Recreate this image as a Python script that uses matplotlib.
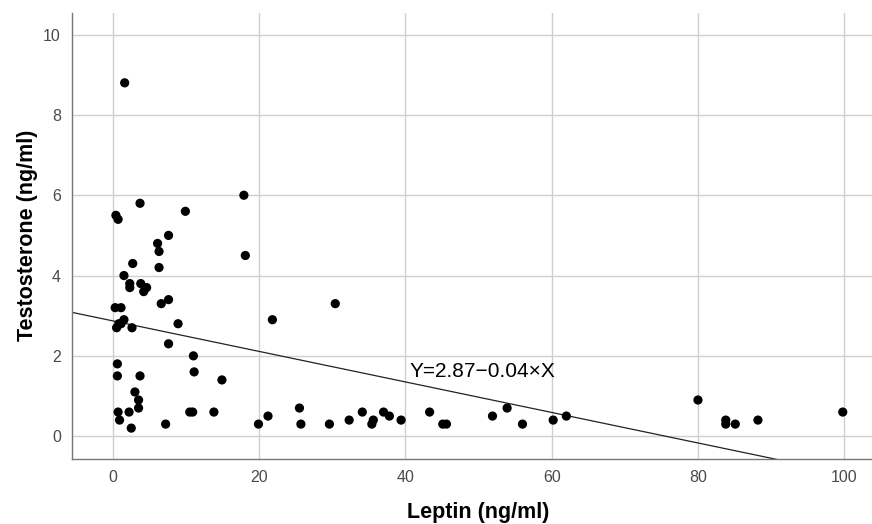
import matplotlib
matplotlib.use('Agg')
import matplotlib.pyplot as plt
import numpy as np

plt.rcParams['font.family'] = ['Liberation Sans', 'DejaVu Sans']

# leptin (ng/ml) and testosterone (ng/ml) per subject
leptin = [1.6, 3.7, 17.9, 0.4, 0.7, 9.9, 7.6, 6.1, 6.3, 18.1,
          2.7, 6.3, 1.5, 2.3, 2.3, 3.8, 4.6, 4.2, 7.6, 6.6,
          30.4, 0.3, 1.1, 1.5, 1.1, 0.8, 0.5, 2.6, 8.9, 21.8,
          7.6, 11.0, 11.1, 14.9, 0.6, 0.6, 3.7, 3.0, 3.5, 3.5,
          0.7, 2.2, 0.9, 2.5, 7.2, 10.5, 10.9, 13.8, 19.9, 21.2,
          25.5, 25.7, 29.6, 32.3, 34.1, 35.4, 35.6, 37.0, 37.8, 39.4,
          43.3, 45.1, 45.6, 51.9, 53.9, 56.0, 60.2, 62.0, 80.0, 83.8,
          83.8, 85.1, 88.2, 99.8]
testosterone = [8.8, 5.8, 6.0, 5.5, 5.4, 5.6, 5.0, 4.8, 4.6, 4.5,
                4.3, 4.2, 4.0, 3.8, 3.7, 3.8, 3.7, 3.6, 3.4, 3.3,
                3.3, 3.2, 3.2, 2.9, 2.8, 2.8, 2.7, 2.7, 2.8, 2.9,
                2.3, 2.0, 1.6, 1.4, 1.8, 1.5, 1.5, 1.1, 0.9, 0.7,
                0.6, 0.6, 0.4, 0.2, 0.3, 0.6, 0.6, 0.6, 0.3, 0.5,
                0.7, 0.3, 0.3, 0.4, 0.6, 0.3, 0.4, 0.6, 0.5, 0.4,
                0.6, 0.3, 0.3, 0.5, 0.7, 0.3, 0.4, 0.5, 0.9, 0.4,
                0.3, 0.3, 0.4, 0.6]

# fitted line
INTERCEPT = 2.87
SLOPE = -0.038

x_ticks = [0, 20, 40, 60, 80, 100]
y_ticks = [0, 2, 4, 6, 8, 10]

fig = plt.figure(figsize=(8.72, 5.24), dpi=100)
ax = fig.add_axes([0.0826, 0.124, 0.9174, 0.852])

xlim = (-5.6, 103.8)
ylim = (-0.57, 10.55)

for xt in x_ticks:
    ax.axvline(xt, color='#cfcfcf', lw=1.0, zorder=0)
for yt in y_ticks:
    ax.axhline(yt, color='#cfcfcf', lw=1.0, zorder=0)

xs = np.array(xlim)
ax.plot(xs, INTERCEPT + SLOPE * xs, color='#222222', lw=0.9, zorder=2)

ax.scatter(leptin, testosterone, s=44, color='black', edgecolors='none', zorder=3)

ax.text(40.6, 1.61, 'Y=%.2f\u2212%.2f\u00d7X' % (INTERCEPT, abs(SLOPE)),
        fontsize=15, ha='left', va='center', color='black', zorder=4)

ax.set_xlim(xlim)
ax.set_ylim(ylim)
ax.set_xticks(x_ticks)
ax.set_yticks(y_ticks)
ax.tick_params(length=0, labelsize=11.5, labelcolor='#4a4a4a', pad=8)

for side in ['top', 'right']:
    ax.spines[side].set_visible(False)
for side in ['left', 'bottom']:
    ax.spines[side].set_color('#777777')
    ax.spines[side].set_linewidth(1.0)

ax.set_xlabel('Leptin (ng/ml)', fontsize=15.5, fontweight='bold', labelpad=12)
ax.xaxis.label.set_x(0.508)
ax.set_ylabel('Testosterone (ng/ml)', fontsize=15.5, fontweight='bold', labelpad=4)

plt.savefig('out.png', dpi=100)
